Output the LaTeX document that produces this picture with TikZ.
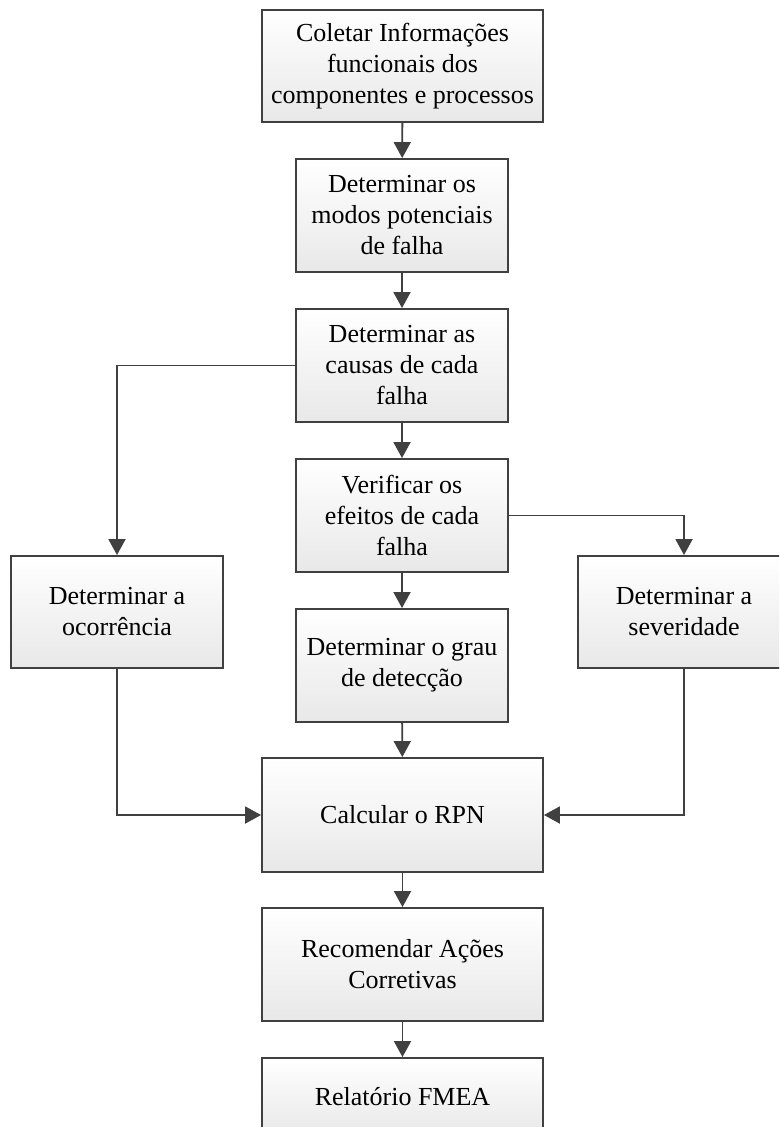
\documentclass[tikz,border=0pt]{standalone}
\usepackage{fontspec}
\setmainfont{Liberation Serif}
\usetikzlibrary{arrows.meta}
\definecolor{linegray}{HTML}{404040}

\begin{document}
\begin{tikzpicture}[x=1pt,y=1pt,
    caixa/.style={draw=linegray, line width=1.9pt, top color=white, bottom color=black!9,
      align=center, inner sep=0pt, minimum height=113pt,
      font=\fontsize{26}{31}\selectfont},
    estreita/.style={caixa, minimum width=212pt},
    larga/.style={caixa, minimum width=281pt},
    seta/.style={draw=linegray, line width=1.9pt, -{Triangle[width=17pt,length=16pt]}}]
  \clip (0,0) rectangle (779,-1127);

  \node[larga, minimum height=112pt] (coleta) at (402.5,-66)
    {Coletar Informações\\funcionais dos\\componentes e processos};
  \node[estreita] (modos) at (402,-215.5) {Determinar os\\modos potenciais\\de falha};
  \node[estreita] (causas) at (402,-365.5) {Determinar as\\causas de cada\\falha};
  \node[estreita] (efeitos) at (402,-515.5) {Verificar os\\efeitos de cada\\falha};
  \node[estreita] (deteccao) at (402,-665.5) {Determinar o grau\\de detecção};
  \node[estreita, minimum height=112pt] (ocorrencia) at (117,-612) {Determinar a\\ocorrência};
  \node[estreita, minimum height=112pt] (severidade) at (684,-612) {Determinar a\\severidade};
  \node[larga, minimum height=114pt] (rpn) at (402.5,-815) {Calcular o RPN};
  \node[larga] (acoes) at (402.5,-964.5) {Recomendar Ações\\Corretivas};
  \node[larga, minimum height=78pt] (relatorio) at (402.5,-1097) {Relatório FMEA};

  \draw[seta] (coleta) -- (modos);
  \draw[seta] (modos) -- (causas);
  \draw[seta] (causas) -- (efeitos);
  \draw[seta] (efeitos) -- (deteccao);
  \draw[seta] (causas.west) -| (ocorrencia.north);
  \draw[seta] (efeitos.east) -| (severidade.north);
  \draw[seta] (deteccao) -- (rpn);
  \draw[seta] (ocorrencia.south) |- (rpn.west);
  \draw[seta] (severidade.south) |- (rpn.east);
  \draw[seta] (rpn) -- (acoes);
  \draw[seta] (acoes) -- (relatorio);
\end{tikzpicture}
\end{document}
